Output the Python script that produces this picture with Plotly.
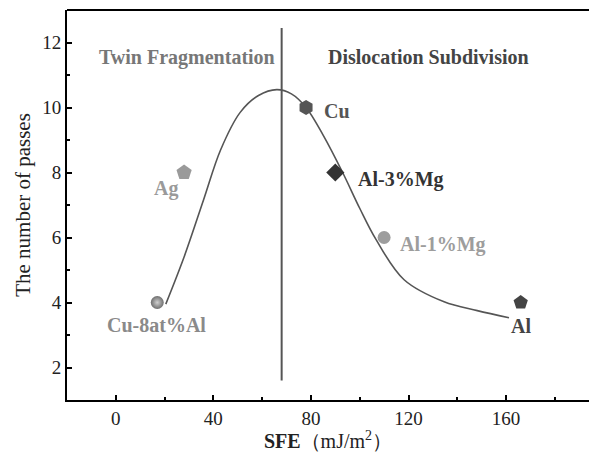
import plotly.graph_objects as go

# Data points (SFE in mJ/m^2, number of passes)
materials = ["Cu-8at%Al", "Ag", "Cu", "Al-3%Mg", "Al-1%Mg", "Al"]
sfe = [17, 28, 78, 90, 110, 166]
passes = [4, 8, 10, 8, 6, 4]

# Trend curve
curve_x = [20.5, 28, 36, 43, 51, 58.5, 66, 72, 78, 85, 93, 100, 106.6, 118.2, 134.6, 148.2, 161.2]
curve_y = [3.95, 5.4, 7.16, 8.7, 9.85, 10.37, 10.55, 10.42, 10.0, 9.15, 8.0, 6.9, 5.95, 4.7, 4.02, 3.75, 3.53]

# Regime divider
divider_x = [68, 68]
divider_y = [1.6, 12.45]

# Label positions
label_x = [16.6, 20.5, 90.8, 116.8, 134, 166]
label_y = [3.3, 7.5, 9.9, 7.8, 5.8, 3.28]
region_names = ["Twin Fragmentation", "Dislocation Subdivision"]
region_x = [29, 128]
region_y = [11.55, 11.55]

x_ticks = [0, 40, 80, 120, 160]
y_ticks = [2, 4, 6, 8, 10, 12]

marker_symbols = ["circle", "pentagon", "hexagon", "diamond", "circle", "pentagon"]
marker_colors = ["#6e6e6e", "#9a9a9a", "#555555", "#333333", "#9d9d9d", "#444444"]
marker_sizes = [13, 16, 15, 14, 13, 15]
label_colors = ["#8a8a8a", "#9a9a9a", "#555555", "#333333", "#9d9d9d", "#444444"]
region_colors = ["#777777", "#444444"]

FONT = "Liberation Serif, Times New Roman, serif"

fig = go.Figure()

fig.add_trace(go.Scatter(x=curve_x, y=curve_y, mode="lines",
                         line=dict(color="#555555", width=1.6, shape="spline", smoothing=1.0),
                         hoverinfo="skip", showlegend=False))
fig.add_trace(go.Scatter(x=divider_x, y=divider_y, mode="lines",
                         line=dict(color="#555555", width=2),
                         hoverinfo="skip", showlegend=False))

for i, name in enumerate(materials):
    marker = dict(symbol=marker_symbols[i], color=marker_colors[i], size=marker_sizes[i],
                  line=dict(width=0))
    if i == 0:
        marker["gradient"] = dict(type="radial", color="#d0d0d0")
    fig.add_trace(go.Scatter(x=[sfe[i]], y=[passes[i]], mode="markers", name=name,
                             marker=marker, showlegend=False))
    fig.add_annotation(x=label_x[i], y=label_y[i], text="<b>" + name + "</b>", showarrow=False,
                       font=dict(family=FONT, size=20, color=label_colors[i]))

for i, name in enumerate(region_names):
    fig.add_annotation(x=region_x[i], y=region_y[i], text="<b>" + name + "</b>", showarrow=False,
                       font=dict(family=FONT, size=20, color=region_colors[i]))

# top border
fig.add_shape(type="line", xref="paper", yref="paper", x0=0, x1=1, y0=1, y1=1,
              line=dict(color="black", width=2))

fig.update_xaxes(range=[-20, 194], tickvals=x_ticks, ticks="inside", ticklen=5, tickwidth=1.5,
                 tickcolor="black", showline=True, linecolor="black", linewidth=2,
                 showgrid=False, zeroline=False, automargin=False,
                 minor=dict(ticks="inside", ticklen=3, tickwidth=1.5, tickcolor="black", dtick=20,
                            tick0=0, showgrid=False),
                 tickfont=dict(family=FONT, size=19, color="#222"),
                 title=dict(text="<b>SFE</b>（mJ/m<sup>2</sup>）", standoff=0,
                            font=dict(family=FONT, size=20, color="#222")))
fig.update_yaxes(range=[1, 13], tickvals=y_ticks, ticks="inside", ticklen=5, tickwidth=1.5,
                 tickcolor="black", showline=True, linecolor="black", linewidth=2,
                 showgrid=False, zeroline=False, automargin=False,
                 minor=dict(ticks="inside", ticklen=3, tickwidth=1.5, tickcolor="black", dtick=1,
                            tick0=0, showgrid=False),
                 tickfont=dict(family=FONT, size=19, color="#222"),
                 title=dict(text="The number of passes", standoff=6,
                            font=dict(family=FONT, size=21, color="#222")))

fig.update_layout(width=589, height=452, margin=dict(l=67, r=0, t=10, b=52),
                  plot_bgcolor="white", paper_bgcolor="white")

fig.write_html("out.html", config={"displayModeBar": False},
               post_script="document.body.style.margin='0';document.body.style.overflow='hidden';")
